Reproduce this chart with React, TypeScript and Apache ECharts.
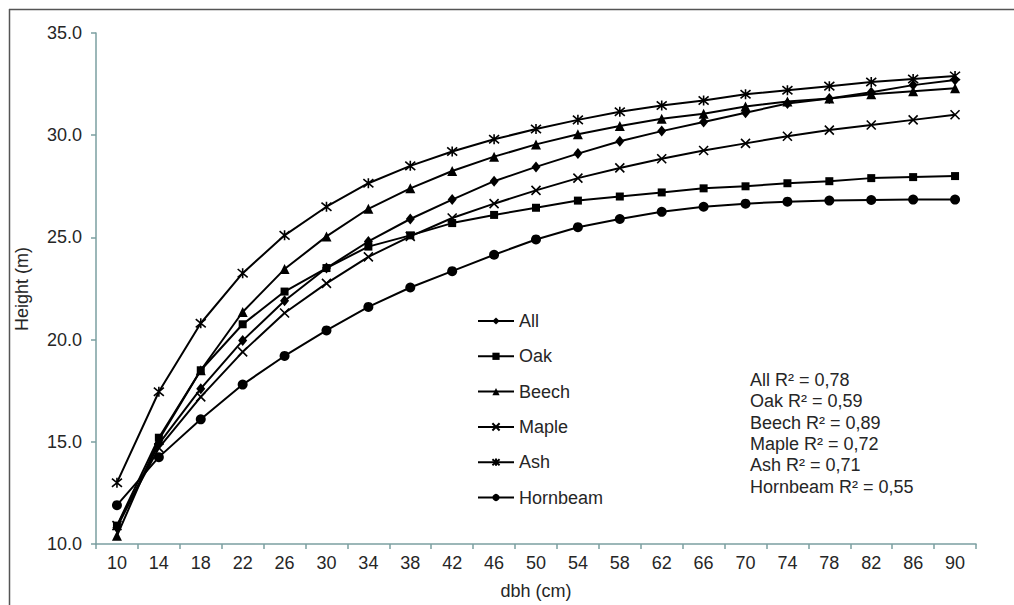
import React, { useEffect, useRef } from "react";
import * as echarts from "echarts";

const categories = ["10","14","18","22","26","30","34","38","42","46","50","54","58","62","66","70","74","78","82","86","90"];

const allValues = [10.8,14.9,17.6,19.95,21.9,23.5,24.8,25.9,26.85,27.75,28.45,29.1,29.7,30.2,30.65,31.1,31.55,31.8,32.1,32.45,32.7];
const oakValues = [10.9,15.2,18.5,20.75,22.35,23.5,24.55,25.1,25.7,26.1,26.45,26.8,27.0,27.2,27.4,27.5,27.65,27.75,27.9,27.95,28.0];
const beechValues = [10.4,15.1,18.5,21.35,23.45,25.05,26.4,27.4,28.25,28.95,29.55,30.05,30.45,30.8,31.05,31.4,31.65,31.8,32.0,32.15,32.3];
const mapleValues = [10.9,14.7,17.2,19.4,21.3,22.75,24.05,25.05,25.95,26.65,27.3,27.9,28.4,28.85,29.25,29.6,29.95,30.25,30.5,30.75,31.0];
const ashValues = [13.0,17.45,20.8,23.25,25.1,26.5,27.65,28.5,29.2,29.8,30.3,30.75,31.15,31.45,31.7,32.0,32.2,32.4,32.6,32.75,32.9];
const hornbeamValues = [11.9,14.25,16.1,17.8,19.2,20.45,21.6,22.55,23.35,24.15,24.9,25.5,25.9,26.25,26.5,26.65,26.75,26.8,26.83,26.85,26.85];

const r2Lines = [
  "All R² = 0,78",
  "Oak R² = 0,59",
  "Beech R² = 0,89",
  "Maple R² = 0,72",
  "Ash R² = 0,71",
  "Hornbeam R² = 0,55",
];

const FONT = "'Liberation Sans', Arial, sans-serif";
const AXIS_COLOR = "#7b9fa1";
const TEXT_COLOR = "#262626";
const FS = 18;

export default function App() {
  const ref = useRef<HTMLDivElement>(null);

  useEffect(() => {
    document.body.style.margin = "0";
    if (!ref.current) return;
    const chart = echarts.init(ref.current, null, { renderer: "svg" });

    const mk = (
      name: string,
      data: number[],
      symbol: string,
      size: number | number[],
      stroke: boolean
    ) => ({
      name,
      type: "line",
      data,
      symbol,
      symbolSize: size,
      showSymbol: true,
      lineStyle: { color: "#000", width: 2 },
      itemStyle: stroke
        ? { color: "#000", borderColor: "#000", borderWidth: 1.6 }
        : { color: "#000", borderWidth: 0 },
      emphasis: { disabled: true },
      z: 3,
    });

    const series = [
      mk("All", allValues, "diamond", [9, 11], false),
      mk("Oak", oakValues, "rect", 8, false),
      mk("Beech", beechValues, "triangle", 10, false),
      mk("Maple", mapleValues, "path://M0,0L10,10M10,0L0,10", 9, true),
      mk("Ash", ashValues, "path://M0,0L10,10M10,0L0,10M5,-1L5,11", 10, true),
      mk("Hornbeam", hornbeamValues, "circle", 10, false),
    ];

    const graphics: any[] = [
      {
        type: "line",
        shape: { x1: 9, y1: 9.5, x2: 1014, y2: 9.5 },
        style: { stroke: "#555", lineWidth: 1.5 },
      },
      {
        type: "line",
        shape: { x1: 9.5, y1: 9, x2: 9.5, y2: 605 },
        style: { stroke: "#555", lineWidth: 1.5 },
      },
      {
        type: "text",
        x: 22,
        y: 289,
        rotation: Math.PI / 2,
        style: {
          text: "Height (m)",
          font: `${FS}px ${FONT}`,
          fill: TEXT_COLOR,
          textAlign: "center",
          textVerticalAlign: "middle",
        },
      },
      {
        type: "text",
        x: 536,
        y: 591,
        style: {
          text: "dbh (cm)",
          font: `${FS}px ${FONT}`,
          fill: TEXT_COLOR,
          textAlign: "center",
          textVerticalAlign: "middle",
        },
      },
      ...r2Lines.map((t, i) => ({
        type: "text",
        x: 750,
        y: 380 + i * 21.3,
        style: {
          text: t,
          font: `${FS}px ${FONT}`,
          fill: TEXT_COLOR,
          textAlign: "left",
          textVerticalAlign: "middle",
        },
      })),
    ];

    chart.setOption({
      animation: false,
      backgroundColor: "#fff",
      grid: { left: 96, right: 38, top: 33, bottom: 61, containLabel: false },
      xAxis: {
        type: "category",
        data: categories,
        boundaryGap: true,
        axisLine: { lineStyle: { color: AXIS_COLOR, width: 1.5 } },
        axisTick: {
          show: true,
          alignWithLabel: false,
          interval: 0,
          length: 5,
          lineStyle: { color: AXIS_COLOR, width: 1.5 },
        },
        axisLabel: {
          interval: 0,
          margin: 10,
          color: TEXT_COLOR,
          fontSize: FS,
          fontFamily: FONT,
        },
        splitLine: { show: false },
      },
      yAxis: {
        type: "value",
        min: 10,
        max: 35,
        interval: 5,
        axisLine: { show: true, lineStyle: { color: AXIS_COLOR, width: 1.5 } },
        axisTick: { show: true, length: 5, lineStyle: { color: AXIS_COLOR, width: 1.5 } },
        axisLabel: {
          margin: 14,
          color: TEXT_COLOR,
          fontSize: FS,
          fontFamily: FONT,
          formatter: (v: number) => v.toFixed(1),
        },
        splitLine: { show: false },
      },
      legend: {
        orient: "vertical",
        left: 477,
        top: 312,
        padding: 0,
        itemWidth: 36,
        itemHeight: 9,
        itemGap: 17.3,
        textStyle: {
          color: TEXT_COLOR,
          fontSize: FS,
          fontFamily: FONT,
          lineHeight: 18,
        },
        data: ["All", "Oak", "Beech", "Maple", "Ash", "Hornbeam"],
        selectedMode: false,
      },
      tooltip: { show: false },
      graphic: graphics,
      series,
    });

    return () => {
      chart.dispose();
    };
  }, []);

  return <div ref={ref} style={{ width: 1014, height: 605 }} />;
}
